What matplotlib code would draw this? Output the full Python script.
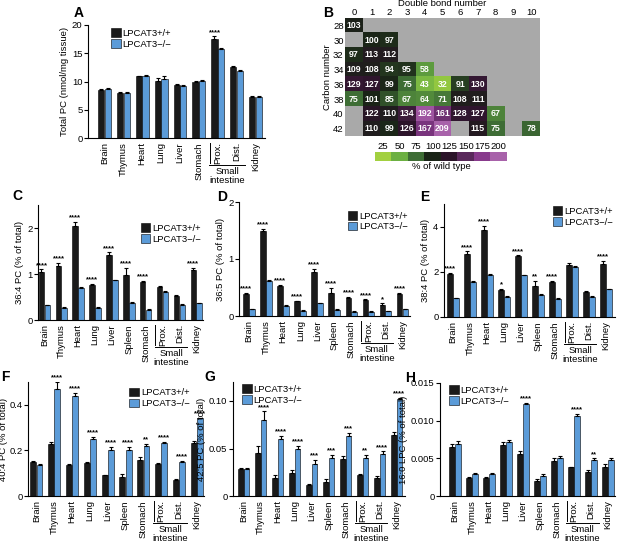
import numpy as np
import matplotlib.pyplot as plt
from matplotlib.patches import Patch
from matplotlib.colors import LinearSegmentedColormap, Normalize
import matplotlib.transforms as mtransforms

plt.rcParams['font.family'] = ['Liberation Sans', 'DejaVu Sans']
plt.rcParams['font.size'] = 6.8

W, H = 617, 541
FS = 6.8

# ---------------- data ----------------
tissues = ['Brain', 'Thymus', 'Heart', 'Lung', 'Liver', 'Spleen', 'Stomach', 'Prox.', 'Dist.', 'Kidney']
tissues_a = ['Brain', 'Thymus', 'Heart', 'Lung', 'Liver', 'Stomach', 'Prox.', 'Dist.', 'Kidney']

# A  total PC
a_wt = [8.5, 8.05, 10.9, 10.1, 9.3, 9.9, 17.6, 12.6, 7.3]
a_wt_err = [0.15, 0.1, 0.1, 0.5, 0.2, 0.15, 0.4, 0.2, 0.1]
a_ko = [8.7, 8.0, 11.0, 10.5, 9.2, 10.1, 15.8, 11.9, 7.3]
a_ko_err = [0.1, 0.1, 0.1, 0.5, 0.2, 0.15, 0.2, 0.2, 0.1]
a_sig = ['', '', '', '', '', '', '****', '', '']

# C  36:4 PC
c_wt = [1.05, 1.18, 2.05, 0.76, 1.42, 0.97, 0.82, 0.72, 0.52, 1.08]
c_wt_err = [0.05, 0.07, 0.08, 0.03, 0.05, 0.17, 0.03, 0.02, 0.02, 0.05]
c_ko = [0.32, 0.27, 0.69, 0.27, 0.87, 0.38, 0.22, 0.61, 0.32, 0.36]
c_ko_err = [0.01, 0.01, 0.02, 0.01, 0.01, 0.02, 0.01, 0.02, 0.02, 0.01]
c_sig = ['****', '****', '****', '****', '****', '****', '****', '', '', '****']

# D  36:5 PC
d_wt = [0.38, 1.5, 0.52, 0.26, 0.78, 0.4, 0.31, 0.28, 0.2, 0.38]
d_wt_err = [0.02, 0.03, 0.02, 0.01, 0.04, 0.09, 0.02, 0.01, 0.02, 0.02]
d_ko = [0.12, 0.62, 0.18, 0.09, 0.22, 0.11, 0.07, 0.07, 0.08, 0.12]
d_ko_err = [0.01, 0.02, 0.01, 0.01, 0.01, 0.01, 0.01, 0.01, 0.01, 0.01]
d_sig = ['****', '****', '****', '****', '****', '****', '****', '****', '*', '****']

# E  38:4 PC
e_wt = [1.9, 2.8, 3.85, 1.2, 2.68, 1.38, 1.55, 2.3, 1.12, 2.35]
e_wt_err = [0.05, 0.1, 0.17, 0.06, 0.05, 0.2, 0.05, 0.07, 0.03, 0.12]
e_ko = [0.83, 1.55, 1.85, 0.9, 1.84, 0.97, 0.8, 2.22, 0.88, 1.22]
e_ko_err = [0.03, 0.04, 0.07, 0.04, 0.03, 0.03, 0.03, 0.04, 0.03, 0.04]
e_sig = ['****', '****', '****', '*', '****', '**', '****', '', '', '****']

# F  40:4 PC
f_wt = [0.148, 0.23, 0.137, 0.145, 0.09, 0.085, 0.16, 0.14, 0.07, 0.232]
f_wt_err = [0.004, 0.009, 0.004, 0.003, 0.003, 0.012, 0.012, 0.004, 0.003, 0.01]
f_ko = [0.138, 0.47, 0.44, 0.25, 0.2, 0.202, 0.218, 0.232, 0.148, 0.34]
f_ko_err = [0.003, 0.03, 0.012, 0.008, 0.015, 0.012, 0.01, 0.006, 0.007, 0.004]
f_sig = ['', '****', '****', '****', '****', '****', '**', '****', '****', '****']

# G  42:5 PC
g_wt = [0.028, 0.045, 0.019, 0.024, 0.012, 0.015, 0.039, 0.022, 0.019, 0.064]
g_wt_err = [0.002, 0.008, 0.003, 0.003, 0.001, 0.003, 0.003, 0.001, 0.002, 0.003]
g_ko = [0.028, 0.08, 0.06, 0.05, 0.034, 0.04, 0.063, 0.04, 0.044, 0.102]
g_ko_err = [0.001, 0.009, 0.003, 0.003, 0.004, 0.003, 0.003, 0.003, 0.003, 0.001]
g_sig = ['', '****', '****', '****', '***', '***', '***', '**', '****', '****']

# H  16:0 LPC
h_wt = [0.0065, 0.0024, 0.0024, 0.0068, 0.0056, 0.002, 0.0047, 0.0038, 0.0032, 0.0039]
h_wt_err = [0.0004, 0.0001, 0.0001, 0.0004, 0.0004, 0.0002, 0.0004, 0.0001, 0.0003, 0.0003]
h_ko = [0.0069, 0.0029, 0.0029, 0.0072, 0.0122, 0.0026, 0.005, 0.0106, 0.0048, 0.0048]
h_ko_err = [0.0004, 0.0002, 0.0002, 0.0002, 0.0002, 0.0003, 0.0003, 0.0003, 0.0002, 0.0002]
h_sig = ['', '', '', '', '****', '', '', '****', '**', '']

# B heatmap (% of wild type), rows = carbon number, cols = double bonds
carbon = [28, 30, 32, 34, 36, 38, 40, 42]
dbonds = list(range(11))
n = np.nan
heat = np.array([
    [103, n, n, n, n, n, n, n, n, n, n],
    [n, 100, 97, n, n, n, n, n, n, n, n],
    [97, 113, 112, n, n, n, n, n, n, n, n],
    [109, 108, 94, 95, 58, n, n, n, n, n, n],
    [129, 127, 99, 75, 43, 32, 91, 130, n, n, n],
    [75, 101, 85, 67, 64, 71, 108, 111, n, n, n],
    [n, 122, 110, 134, 192, 161, 128, 127, 67, n, n],
    [n, 110, 99, 126, 167, 209, n, 115, 75, n, 78],
])
cbar_levels = [25, 50, 75, 100, 125, 150, 175, 200]

wt_color = '#1a1a1a'
ko_color = '#5b9bd8'
label_wt = 'LPCAT3+/+'
label_ko = 'LPCAT3\u2212/\u2212'

fig = plt.figure(figsize=(W / 100, H / 100), dpi=100)


def px_axes(l, t, r, b):
    return fig.add_axes([l / W, 1 - b / H, (r - l) / W, (b - t) / H])


def letter(x, y, s):
    fig.text(x / W, 1 - y / H, s, fontsize=10, fontweight='bold', ha='center', va='center')


def bar_panel(ax, names, wt, wt_err, ko, ko_err, sig, ylim, yticks, yticklabels, ylabel, xlim, legend_loc, ylpad=2):
    x = np.arange(len(names))
    w = 0.33
    ax.bar(x - w / 2 - 0.01, wt, w, color=wt_color, edgecolor='black', linewidth=0.4)
    ax.bar(x + w / 2 + 0.01, ko, w, color=ko_color, edgecolor='black', linewidth=0.4)
    z = np.zeros(len(names))
    ax.errorbar(x - w / 2 - 0.01, wt, yerr=[z, wt_err], fmt='none', ecolor='black', elinewidth=0.8, capsize=1.5, capthick=0.8)
    ax.errorbar(x + w / 2 + 0.01, ko, yerr=[z, ko_err], fmt='none', ecolor='black', elinewidth=0.8, capsize=1.5, capthick=0.8)
    for i, s in enumerate(sig):
        if not s:
            continue
        top_wt = wt[i] + wt_err[i]
        top_ko = ko[i] + ko_err[i]
        xs = x[i] - w / 2 if top_wt >= top_ko else x[i] + w / 2
        ax.text(xs, max(top_wt, top_ko) + ylim[1] * 0.005, s, ha='center', va='bottom', fontsize=5.5, fontweight='bold')
    ax.set_xlim(*xlim)
    ax.set_ylim(*ylim)
    ax.set_yticks(yticks)
    ax.set_yticklabels(yticklabels, fontsize=FS)
    ax.set_ylabel(ylabel, fontsize=FS, labelpad=ylpad)
    ax.set_xticks(x)
    ax.set_xticklabels(names, rotation=90, fontsize=FS)
    ax.tick_params(axis='x', length=0, pad=3)
    ax.tick_params(axis='y', length=3, width=0.8, pad=1)
    for sp in ['top', 'right']:
        ax.spines[sp].set_visible(False)
    ax.spines['left'].set_linewidth(0.8)
    ax.spines['bottom'].set_linewidth(0.8)
    # small intestine bracket
    ip = names.index('Prox.')
    trans = mtransforms.blended_transform_factory(ax.transData, ax.transAxes)
    ax_h_in = ax.get_position().height * H / 100
    off = mtransforms.ScaledTranslation(0, -27 / 100, fig.dpi_scale_trans)
    ax.plot([ip - 0.45, ip + 1.45], [0, 0], color='black', lw=0.7, transform=trans + off, clip_on=False)
    off2 = mtransforms.ScaledTranslation(0, -5 / 100, fig.dpi_scale_trans)
    ax.plot([ip - 0.42, ip - 0.42], [0, -20 / 100 / ax_h_in], color='black', lw=0.7,
            transform=trans + off2, clip_on=False)
    off3 = mtransforms.ScaledTranslation(0, -29 / 100, fig.dpi_scale_trans)
    ax.text(ip + 0.5, 0, 'Small\nintestine', ha='center', va='top', fontsize=FS, linespacing=0.95,
            transform=trans + off3)
    handles = [Patch(facecolor=wt_color, edgecolor='black', linewidth=0.4),
               Patch(facecolor=ko_color, edgecolor='black', linewidth=0.4)]
    ax.legend(handles, [label_wt, label_ko], frameon=False, fontsize=FS, handlelength=1.0, handleheight=1.0,
              handletextpad=0.2, labelspacing=0.15, borderpad=0.1, loc=legend_loc[0], bbox_to_anchor=legend_loc[1])


# ---------------- A ----------------
axA = px_axes(88, 25, 265, 138)
bar_panel(axA, tissues_a, a_wt, a_wt_err, a_ko, a_ko_err, a_sig, (0, 20), [0, 5, 10, 15, 20],
          ['0', '5', '10', '15', '20'], 'Total PC (nmol/mg tissue)', (-0.87, 8.5), ('upper left', (0.1, 1.02)))
letter(79, 13, 'A')

# ---------------- B heatmap ----------------
axB = px_axes(345, 18, 540, 136)
cmap = LinearSegmentedColormap.from_list('gp', [
    (0.0, '#a2d040'), (1 / 7, '#6cb043'), (2 / 7, '#3f6e36'), (3 / 7, '#1a2417'),
    (4 / 7, '#2b1429'), (5 / 7, '#5b2a5d'), (6 / 7, '#883a8c'), (1.0, '#a862aa')])
norm = Normalize(25, 200)
axB.set_facecolor('#a9a9a9')
axB.imshow(np.ma.masked_invalid(heat), cmap=cmap, norm=norm, aspect='auto', interpolation='nearest',
           extent=(-0.5, 10.5, len(carbon) - 0.5, -0.5))
for r in range(len(carbon)):
    for c in range(len(dbonds)):
        v = heat[r, c]
        if not np.isnan(v):
            axB.text(c, r, '%d' % v, ha='center', va='center', color='white', fontsize=6.3, fontweight='bold')
axB.set_xlim(-0.5, 10.5)
axB.set_ylim(len(carbon) - 0.5, -0.5)
axB.xaxis.tick_top()
axB.xaxis.set_label_position('top')
axB.set_xticks(range(len(dbonds)))
axB.set_xticklabels([str(d) for d in dbonds], fontsize=FS)
axB.set_yticks(range(len(carbon)))
axB.set_yticklabels([str(cn) for cn in carbon], fontsize=FS)
axB.tick_params(length=0, pad=1)
axB.set_xlabel('Double bond number', fontsize=FS, labelpad=1)
axB.set_ylabel('Carbon number', fontsize=FS, labelpad=1)
for sp in axB.spines.values():
    sp.set_visible(False)
letter(328, 13, 'B')

axCb = px_axes(375, 152, 507, 161)
axCb.imshow(np.array([cbar_levels]), cmap=cmap, norm=norm, aspect='auto', extent=(-0.5, 7.5, 0, 1))
axCb.set_xlim(-0.5, 7.5)
axCb.xaxis.tick_top()
axCb.set_xticks(range(len(cbar_levels)))
axCb.set_xticklabels([str(v) for v in cbar_levels], fontsize=FS)
axCb.set_yticks([])
axCb.tick_params(length=0, pad=1)
axCb.set_xlabel('% of wild type', fontsize=FS, labelpad=1)
for sp in axCb.spines.values():
    sp.set_visible(False)

# ---------------- C D E ----------------
axC = px_axes(38, 205, 203, 320)
bar_panel(axC, tissues, c_wt, c_wt_err, c_ko, c_ko_err, c_sig, (0, 2.5), [0, 1, 2], ['0', '1', '2'],
          '36:4 PC (% of total)', (-0.38, 9.4), ('upper right', (1.02, 0.89)))
letter(17, 196, 'C')

axD = px_axes(239, 202, 410, 316)
bar_panel(axD, tissues, d_wt, d_wt_err, d_ko, d_ko_err, d_sig, (0, 2), [0, 1, 2], ['0', '1', '2'],
          '36:5 PC (% of total)', (-0.6, 9.45), ('upper right', (1.02, 0.97)))
letter(222, 197, 'D')

axE = px_axes(444, 204, 615, 317)
bar_panel(axE, tissues, e_wt, e_wt_err, e_ko, e_ko_err, e_sig, (0, 5), [0, 2, 4], ['0', '2', '4'],
          '38:4 PC (% of total)', (-0.52, 9.54), ('upper right', (1.02, 1.03)))
letter(425, 197, 'E')

# ---------------- F G H ----------------
axF = px_axes(28, 382, 204, 496)
bar_panel(axF, tissues, f_wt, f_wt_err, f_ko, f_ko_err, f_sig, (0, 0.5), [0, 0.2, 0.4], ['0', '0.2', '0.4'],
          '40:4 PC (% of total)', (-0.47, 9.4), ('upper right', (0.95, 1.0)), ylpad=0.5)
letter(5, 377, 'F')

axG = px_axes(233, 382, 405, 496)
bar_panel(axG, tissues, g_wt, g_wt_err, g_ko, g_ko_err, g_sig, (0, 0.12), [0, 0.05, 0.10], ['0', '0.05', '0.10'],
          '42:5 PC (% of total)', (-0.63, 9.49), ('upper left', (0.02, 1.03)))
letter(210, 377, 'G')

axH = px_axes(440, 383, 615, 496)
bar_panel(axH, tissues, h_wt, h_wt_err, h_ko, h_ko_err, h_sig, (0, 0.015), [0, 0.005, 0.010, 0.015],
          ['0', '0.005', '0.010', '0.015'], '16:0 LPC (% of total)', (-0.87, 9.42), ('upper left', (0.02, 1.03)))
letter(410, 378, 'H')

fig.savefig('out.png', dpi=100)
